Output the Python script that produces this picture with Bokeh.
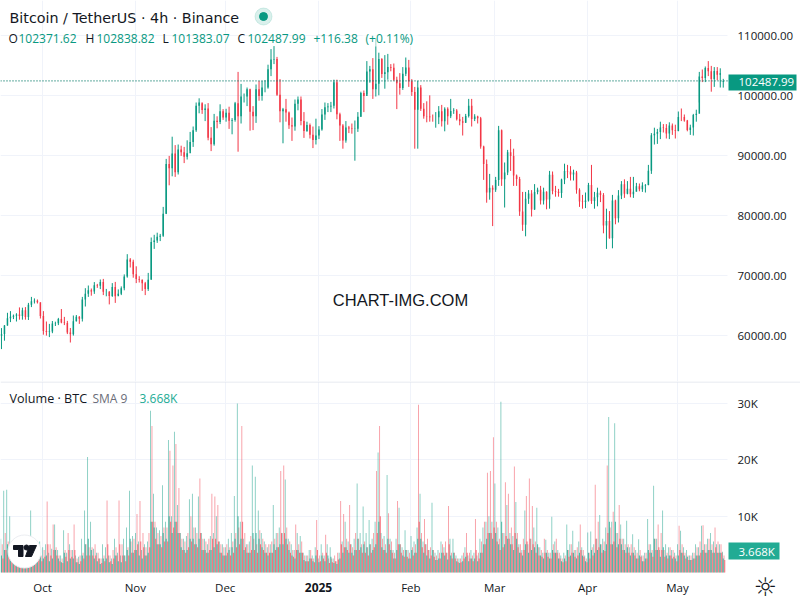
from bokeh.embed import file_html
from bokeh.resources import INLINE
from bokeh.layouts import column
from bokeh.models import (ColumnDataSource, Range1d, FixedTicker, NumeralTickFormatter,
                          Label, BoxAnnotation, LinearAxis)
from bokeh.plotting import figure

# ---- data (daily): day 0 = 1 Oct 2024
first_day = -14
close_sep = [60300,61750,62950,63200,63350,63580,63330,64260,63140,65180,65770,65870,65600,63330]
high_sep  = [61300,61800,63850,64130,63560,63780,64750,64700,64800,65500,66500,66250,66070,65550]
low_sep   = [57800,59200,61700,62300,62800,62400,62700,62700,62700,62650,64800,65400,65400,62900]
close_oct = [60800,60650,60750,62080,62090,62820,62220,62130,60580,60270,62440,63200,62850,66050,67040,67610,67400,68430,68360,69000,67360,67360,66650,68160,66600,67010,67960,69900,72730,72340,70290]
high_oct  = [64130,62400,62000,62480,62370,63000,64480,63170,62500,61320,63400,63480,63300,66500,67950,68400,67900,68970,68670,69400,69500,67830,67470,68800,69000,67750,68250,70250,73620,72970,72700]
low_oct   = [60200,60050,59800,60450,61650,61800,62100,61800,60300,58900,60050,62400,62000,62400,64900,66500,66700,67000,68000,67800,66800,66600,65250,66500,65500,66800,66800,67600,69700,71400,69700]
close_nov = [69490,69370,68770,67800,69350,75640,75900,76540,76680,80370,88650,87950,90380,87270,91060,90600,89850,90460,92310,94290,98350,98890,97670,97900,93010,91960,95860,95640,97460,96400]
high_nov  = [71600,69950,69400,69000,70500,76400,76850,77200,77000,81500,89500,90000,93200,91800,91900,91700,91500,92600,94000,94900,98900,99600,98700,98600,98800,94800,97000,96600,98600,97800]
low_nov   = [68800,68900,67500,66800,67500,69400,74500,75500,75800,76500,80300,85100,86600,86500,86900,90000,88800,89400,90900,91500,94000,97100,97000,95800,92600,90800,91700,94600,95300,96000]
close_dec = [97190,95840,96000,98770,96590,99920,99920,101120,97340,96590,101120,100000,101420,101420,104460,106060,106130,100200,97460,97760,97220,95100,94880,98700,99400,95800,94160,95160,93530,92640,93390]
high_dec  = [97850,98200,96300,99000,104000,102000,100400,101400,101200,98300,101900,102500,102500,102600,105200,107800,108300,106500,102800,98000,99500,97400,96400,99400,99900,99900,97300,95700,95400,94900,96200]
low_dec   = [95700,94500,93600,95700,90700,95400,98900,98300,94200,94300,95500,99200,99200,100600,101200,103300,105300,100000,95600,92100,95700,94500,92500,94200,97600,95100,93000,94000,92900,91300,91900]
close_jan = [94420,96890,98100,98230,98360,102280,96950,95060,92550,94720,94550,94500,94520,96530,100500,99990,104080,104450,101090,102020,106150,103650,103960,104820,104710,102680,102090,101300,103700,104730,102430]
high_jan  = [94950,97800,98900,98800,99000,102700,102700,97200,95300,95800,95000,95400,95900,97300,100700,100900,105800,105000,106300,109590,107200,106300,106800,107000,105300,105400,103200,103800,104800,106400,106000]
low_jan   = [92800,94200,96000,97300,97300,97900,96100,92500,91200,92200,93800,93700,89200,94000,96500,97300,100300,102200,99500,99900,100100,103000,101200,102700,104100,102500,97800,100200,101000,103300,101500]
close_feb = [100640,97700,101400,97870,96610,96550,96460,96450,96460,97430,95780,97870,96620,97500,97570,96120,95770,95540,96640,98340,96130,96580,96270,91550,88640,83900,84700,84350]
high_feb  = [102800,101500,102500,101800,98800,99100,100100,96900,97300,98300,98500,98100,98100,99500,97950,97800,97000,96500,97000,99500,99500,96950,96700,96500,91700,89400,87000,85100]
low_feb   = [100000,91200,91200,97500,96200,95600,95700,95700,94700,95300,94900,94100,95200,96300,97000,95900,95100,93400,95500,96400,94900,95800,95400,91200,86000,82200,82700,78300]
close_mar = [86000,94270,86120,87220,90620,89970,86740,86150,80730,78530,82860,83720,81070,83970,84340,82580,84030,82720,86850,84170,84040,83830,86080,87500,87400,86900,87230,84350,82390,82300,82550]
high_mar  = [86500,95000,94400,88900,91000,92800,91200,86900,86500,84000,84000,84300,84300,85300,84700,85000,84700,84100,87500,87400,85000,84500,86200,88700,88500,88300,87700,87500,84600,83500,83900]
low_mar   = [84000,85000,85000,81400,86800,87500,85000,85000,80000,77500,76600,82000,79900,81000,83600,81900,81900,81100,81200,83600,83200,83200,83000,85300,86300,85900,85900,83700,81500,81200,81300]
close_apr = [85160,82500,83100,83840,83500,78400,79130,76270,82580,79600,83400,85280,83700,84540,83620,84030,84940,84450,85060,85170,87520,93440,93700,93980,94720,94650,93750,95050,94260,94170]
high_apr  = [85500,88500,84000,84700,84200,83800,81200,80800,83500,82700,84300,85800,86100,85800,86500,86500,85500,85400,85600,85300,88500,93800,94700,94500,95700,95300,95300,95600,95400,95200]
low_apr   = [82400,82000,81200,81600,82300,77100,74500,76200,74600,78600,78900,82800,83000,83600,83100,83000,84100,84100,84000,83900,85100,87000,91900,92000,92800,93900,92900,92800,93500,92900]
close_may = [96480,96470,95900,94310,94750,96830,97030,103240,102970,104670,104110,102810,104130,103540,103760,102487.99]
high_may  = [97400,97900,96900,96000,95200,97000,97700,104000,104400,104900,105800,105000,104800,104800,104600,102838.82]
low_may   = [94100,95800,95700,94100,93500,93400,95700,98900,102300,102300,103300,100700,101500,102600,101400,101383.07]

vol_up = [6.0,14.5,14.7,10.0,5.5,4.0,3.0,5.5,6.5,4.5, 11.0,4.0,3.5,5.5,4.5,5.0,3.5,4.2,8.5,4.0,
 3.0,7.5,3.5,5.0,4.0,3.0,2.8,6.0,11.0,20.5, 9.0,4.2,3.5,2.5,5.0,4.5,3.0,2.5,6.0,3.5,
 3.0,6.0,8.0,14.5,6.5,7.0,5.5,4.0,5.0,5.5, 28.7,14.0,8.0,7.5,15.5,9.0,23.5,10.0,25.0,12.0,
 7.0,6.0,6.5,13.0,14.0,8.0,13.5,7.0,6.0,5.0, 6.5,7.0,10.0,5.5,5.0,4.5,6.0,7.0,13.6,30.0,
 9.0,6.0,5.0,5.5,19.0,17.0,11.0,7.0,5.5,4.5, 5.0,12.0,7.0,8.0,7.0,16.5,6.0,5.0,4.0,7.0,
 6.5,3.5,3.0,4.0,3.0,4.5,2.5,5.0,3.0,5.0, 4.5,2.5,2.0,3.5,5.5,9.0,5.5,5.0,6.0,15.8,
 7.0,11.7,7.0,9.3,6.0,9.0,21.3,7.0,6.5,17.3, 6.0,4.0,6.0,11.5,4.5,7.5,4.0,6.5,5.5,8.0,
 14.0,5.5,5.0,4.0,12.4,3.5,4.0,5.5,4.5,3.5, 6.0,6.0,3.0,2.5,3.0,4.5,3.0,4.0,3.5,3.0,
 6.0,8.0,9.0,10.0,9.0,15.8,8.0,30.3,7.0,12.0, 7.0,6.5,12.5,5.0,4.0,11.0,5.0,6.0,8.0,11.5,
 4.5,3.5,5.8,3.5,9.9,5.5,4.0,3.0,3.5,8.5, 5.0,7.4,4.0,5.5,4.5,3.0,7.1,7.3,5.0,6.0,
 10.2,6.0,8.0,27.6,9.0,26.5,7.0,8.5,6.0,9.2, 4.5,6.8,4.0,5.9,3.0,3.5,9.5,5.0,15.4,6.0,
 4.0,11.0,5.0,4.5,4.0,3.5,5.0,7.4,4.5,4.0, 3.0,3.5,5.0,4.5,8.3,5.0,6.0,7.0,5.5,5.0, 5.0,3.7]
vol_dn = [5.0,7.0,5.5,4.5,3.0,3.0,6.0,4.0,3.5,6.5, 3.5,3.5,4.0,3.0,4.0,12.6,5.0,8.5,4.5,3.0,
 2.5,4.0,7.0,4.0,8.5,2.5,3.0,3.5,5.0,4.5, 4.5,5.0,3.5,2.5,3.0,12.8,3.0,4.0,4.5,12.8,
 5.0,3.0,4.5,5.5,6.0,10.4,12.7,7.0,4.5,7.0, 26.0,9.0,7.0,6.5,8.0,8.0,21.6,19.0,22.8,15.0,
 6.0,5.5,7.0,10.0,8.0,7.0,16.7,6.0,5.5,6.0, 14.0,13.5,12.0,5.0,4.5,5.0,4.5,5.5,7.0,8.0,
 26.0,7.0,5.0,6.5,6.0,5.0,7.5,6.0,5.0,5.0, 5.5,6.0,7.0,18.0,19.0,8.0,5.5,4.0,8.5,5.0,
 5.5,3.0,3.0,4.0,2.5,9.3,3.0,3.5,6.7,2.5, 2.5,3.0,3.5,12.7,10.4,6.0,12.0,4.5,7.0,6.0,
 5.0,5.5,4.5,5.0,7.0,18.0,26.0,6.0,5.0,10.5, 5.5,3.5,12.7,5.0,4.0,4.0,3.5,4.5,5.0,29.8,
 7.0,9.5,6.0,4.5,4.0,3.0,3.5,5.0,5.5,11.8, 3.5,3.5,2.5,2.5,3.5,7.0,3.5,3.0,9.5,3.5,
 5.5,9.0,17.7,18.0,24.0,9.0,6.0,7.0,16.0,14.0, 8.0,18.8,7.0,5.0,6.0,13.6,16.7,11.8,5.5,4.5,
 4.0,6.0,4.0,3.5,5.0,6.0,3.5,2.5,3.0,4.0, 5.0,4.0,4.5,8.5,4.0,2.5,3.5,4.5,15.6,9.0,
 5.0,5.5,19.0,8.0,10.8,7.0,12.0,6.0,5.0,5.0, 5.0,4.5,3.5,4.0,3.0,3.5,5.0,4.0,6.0,8.5,
 7.0,4.0,3.5,4.5,4.0,3.0,8.3,5.0,3.5,3.0, 3.0,3.5,4.5,5.5,8.4,5.0,6.0,5.0,8.0,5.5, 5.0,3.0]
vol_up2 = [3,4,5,3.5,2.5,2,1.5,3,3.5,2.5, 4,2.5,2,3,2.5,3,2,2.5,4,2.5,
 1.8,3.5,2,2.5,2.5,1.8,1.5,3,5,6, 4,2.5,2,1.5,2.5,2.5,1.8,1.5,3,2,
 1.8,3,4,6,3.5,4,3,2.5,3,3.5, 9,8,5,5,7,6,10,7,9,7,
 4.5,4,4,6,6,5,6,4,4,3.5, 4,4.5,5,3.5,3,3,4,4.5,6,10,
 6,4,3.5,3.5,7,7,6,4.5,3.5,3, 3.5,5,4.5,5,5,6,4,3,2.5,4,
 3.5,2.2,2,2.5,2,3,1.8,3,2,3, 2.8,1.7,1.5,2.5,3.5,4.5,3.5,3.5,4,6,
 4.5,5,4.5,5,4,5,9,4.5,4,6, 4,2.5,4,5,3,4,2.5,4,3.5,6,
 6,3.5,3,2.5,4,2.2,2.5,3.5,3,2.3, 3,3.5,2,1.7,2,2.8,2,2.5,2.5,2,
 3.5,5,6,7,6,7,5,9,5,6, 5,4,6,3.5,3,5,3.5,4,4.5,5,
 3,2.5,3.5,2.5,4,3.5,2.5,2,2.5,4, 3,3.5,2.5,3.5,3,2,3.5,4,3.5,4,
 5,4,5,9,5,9,5,5,4,4.5, 3,3.5,2.5,3,2,2.5,4,3.5,6,4,
 2.8,4.5,3,3,2.5,2.5,3,3.5,3,2.8, 2.2,2.5,3,3,4,3.5,4,4,3.5,3.5, 3.5,2.5]
vol_dn2 = [2.5,4,3,3,2,2,3.5,2.5,2.5,4, 2.5,2.5,2.5,2,2.8,5,3,4,3,2,
 1.7,2.8,4,2.8,4,1.8,2,2.5,3,3, 3,3,2.5,1.7,2,5,2,2.5,3,5,
 3,2,3,3.5,4,5,5.5,4.5,3,4.5, 9,6,5,4.5,5.5,5.5,9,8,9,7,
 4,3.5,4.5,5.5,5,4.5,7,4,3.5,4, 6,6,5.5,3.5,3,3.5,3,3.5,4.5,5,
 9,4.5,3.5,4,4,3.5,5,4,3.5,3.5, 3.5,4,4.5,7,7,5,3.5,2.8,4,3.5,
 3.5,2,2,2.5,1.8,4,2,2.5,3.5,1.7, 1.8,2,2.3,5,4.5,4,5,3,4,4,
 3.5,3.5,3,3.5,4.5,7,10,4,3.5,5, 3.5,2.5,5,3.5,2.8,2.8,2.5,3,3.5,9,
 4.5,5,4,3,2.8,2.2,2.5,3.5,3.5,5, 2.5,2.5,1.8,1.8,2.5,3.5,2.5,2,4,2.5,
 3.5,5,7,7,8,5.5,4,4.5,6.5,6, 5,7,4.5,3.5,4,5.5,6,5,3.5,3,
 2.8,3.5,2.8,2.5,3.5,3.5,2.5,1.8,2,2.8, 3.5,2.8,3,4,2.8,1.8,2.5,3,6,4.5,
 3.5,3.8,7,5,5.5,4.5,6,4,3.5,3.5, 3.5,3,2.5,2.8,2,2.5,3.5,2.8,4,4.5,
 4,2.8,2.5,3,2.8,2,4,3.5,2.5,2.2, 2.2,2.5,3,3.5,4,3.5,4,3.5,4.5,3.5, 3.5,2.2]

price_ticks = [60000,70000,80000,90000,100000,110000]
volume_ticks = [10,20,30]
month_ticks = [0,31,61,92,123,151,182,212]
month_labels = ["Oct","Nov","Dec","","Feb","Mar","Apr","May"]
last_price, last_volume = 102487.99, 3.668

closes = close_sep+close_oct+close_nov+close_dec+close_jan+close_feb+close_mar+close_apr+close_may
highs = high_sep+high_oct+high_nov+high_dec+high_jan+high_feb+high_mar+high_apr+high_may
lows = low_sep+low_oct+low_nov+low_dec+low_jan+low_feb+low_mar+low_apr+low_may
opens = [60000]+closes[:-1]
opens[-1] = 102371.62
n = len(closes)
days = [first_day+i+0.3 for i in range(n)]

UP, DOWN, INK, GRID = "#089981", "#f23645", "#131722", "#f0f3fa"
FONT = "Open Sans"
W, H, SPLIT = 800, 600, 381

def dx(px): return (px-42)/2.995
def py2p(py): return 60000+(335.4-py)/0.006
def vy(py): return (572-py)/5.633
XR = Range1d(dx(0), dx(W))
PY = Range1d(py2p(SPLIT), py2p(0))
VY = Range1d(vy(H), vy(SPLIT))

common = dict(x_range=XR, output_backend="svg", toolbar_location=None, y_axis_location=None,
              x_axis_location=None, min_border=0, outline_line_color=None,
              background_fill_color="white")
p1 = figure(width=W, height=SPLIT, y_range=PY, **common)
p2 = figure(width=W, height=H-SPLIT, y_range=VY, **common)

for p in (p1, p2):
    p.xgrid.ticker = FixedTicker(ticks=month_ticks)
    p.xgrid.grid_line_color = GRID
    p.ygrid.grid_line_color = GRID
    # grid stops at the price scale
    p.add_layout(BoxAnnotation(left=dx(727), right=dx(W), fill_color="white", fill_alpha=1,
                               line_color=None, level="underlay"))
p2.add_layout(BoxAnnotation(top=vy(572), bottom=vy(H), fill_color="white", fill_alpha=1,
                            line_color=None, level="underlay"))

def price_axis(p, ticks):
    ax = LinearAxis(fixed_location=dx(727), ticker=FixedTicker(ticks=ticks), axis_line_color=None,
                    major_tick_line_color=None, minor_tick_line_color=None,
                    major_label_text_font=FONT, major_label_text_font_size="11.5px",
                    major_label_text_color=INK, major_label_standoff=4)
    p.add_layout(ax, "right")
    return ax

a1 = price_axis(p1, price_ticks)
a1.formatter = NumeralTickFormatter(format="0.00")
p1.ygrid.ticker = FixedTicker(ticks=price_ticks)
a2 = price_axis(p2, volume_ticks)
a2.major_label_overrides = {10:"10K",20:"20K",30:"30K"}
p2.ygrid.ticker = FixedTicker(ticks=volume_ticks)
xa = LinearAxis(fixed_location=vy(572), ticker=FixedTicker(ticks=month_ticks),
                axis_line_color=None, major_tick_line_color=None, minor_tick_line_color=None,
                major_label_overrides=dict(zip(month_ticks, month_labels)),
                major_label_text_font=FONT, major_label_text_font_size="11.5px",
                major_label_text_color=INK, major_label_standoff=1)
p2.add_layout(xa, "below")

# ---- candles
colors = [UP if c >= o else DOWN for o, c in zip(opens, closes)]
src = ColumnDataSource(dict(x=days, o=opens, h=highs, l=lows, c=closes, col=colors))
p1.segment("x", "h", "x", "l", source=src, color="col", line_width=1)
p1.vbar("x", 0.5, "o", "c", source=src, fill_color="col", line_color=None)
p1.line([dx(0), dx(727)], [last_price, last_price], line_color="#067a67", line_dash=[1, 2], line_width=1.3)

# ---- volumes
def bars(values, offset, color, width, alpha):
    p2.vbar([first_day+i+offset for i in range(len(values))], width, 0, values,
            fill_color=color, fill_alpha=alpha, line_color=None)
bars(vol_up, 0.05, UP, 0.3, 0.5)
bars(vol_dn, 0.55, DOWN, 0.3, 0.5)
bars(vol_dn2, 0.80, DOWN, 0.35, 0.65)
bars(vol_up2, 0.30, UP, 0.35, 0.65)

# ---- annotations
def lab(p, bottom, text, px, py, color=INK, size="12px", font=FONT, align="left", bold=False, **kw):
    p.add_layout(Label(x=px, y=bottom-py, x_units="screen", y_units="screen", text=text,
                       text_color=color, text_font_size=size, text_font=font,
                       text_align=align, text_baseline="middle",
                       text_font_style="bold" if bold else "normal", **kw))

p1.add_layout(BoxAnnotation(left=dx(362), right=dx(418), top=py2p(30), bottom=py2p(46),
                            fill_color="white", fill_alpha=0.6, line_color=None))
lab(p1, SPLIT, "Bitcoin / TetherUS · 4h · Binance", 9, 17, size="14.3px", font="DejaVu Sans")
p1.scatter([dx(263)], [py2p(16)], size=17, color=UP, alpha=0.15)
p1.scatter([dx(263)], [py2p(16)], size=8, color=UP)
for text, px, col in [("O",8,INK),("102371.62",18,UP),("H",85,INK),("102838.82",96,UP),
                      ("L",162,INK),("101383.07",171,UP),("C",237,INK),("102487.99",247,UP),
                      ("+116.38",313,UP),("(+0.11%)",365,UP)]:
    lab(p1, SPLIT, text, px, 38, color=col, size="12px")
lab(p1, SPLIT, "CHART-IMG.COM", 400, 299.5, size="16.5px", font="Liberation Sans", align="center")
p1.add_layout(BoxAnnotation(left=dx(728), right=dx(796), top=py2p(74), bottom=py2p(90),
                            fill_color=UP, fill_alpha=1, line_color=None))
lab(p1, SPLIT, "102487.99", 738, 81.5, color="white", size="11.5px")

def lab2(text, px, py, **kw):
    lab(p2, H, text, px, py, **kw)
lab2("Volume · BTC", 9, 398, size="12.6px")
lab2("SMA 9", 92, 398, color="#6a6d78")
lab2("3.668K", 139, 398, color="#22ab94")
p2.add_layout(BoxAnnotation(left=dx(728), right=dx(779), top=vy(542), bottom=vy(559),
                            fill_color="#22ab94", fill_alpha=1, line_color=None))
lab2("3.668K", 738, 550.5, color="white", size="11.5px")
lab2("2025", 318, 587, align="center", bold=True)
lab2("\u263c", 765, 586, size="26px", font="DejaVu Sans", align="center")

# pane separator
p2.add_layout(BoxAnnotation(left=dx(0), right=dx(W), top=vy(381), bottom=vy(382),
                            fill_color="#e0e3eb", fill_alpha=1, line_color=None))

# logo
p2.scatter([dx(24)], [vy(551)], size=33, fill_color="white", line_color="#eceef2", level="overlay")
logo_x = [[13,22.5,22.5,18,18,13],[29,36,31,25]]
logo_y = [[545,545,556,556,549,549],[545,545,556,556]]
p2.patches([[dx(a) for a in r] for r in logo_x], [[vy(a) for a in r] for r in logo_y],
           color=INK, level="overlay")
p2.scatter([dx(26)], [vy(547)], size=5, color=INK, level="overlay")

layout = column(p1, p2, spacing=0)
open("out.html", "w").write(file_html(layout, INLINE))
